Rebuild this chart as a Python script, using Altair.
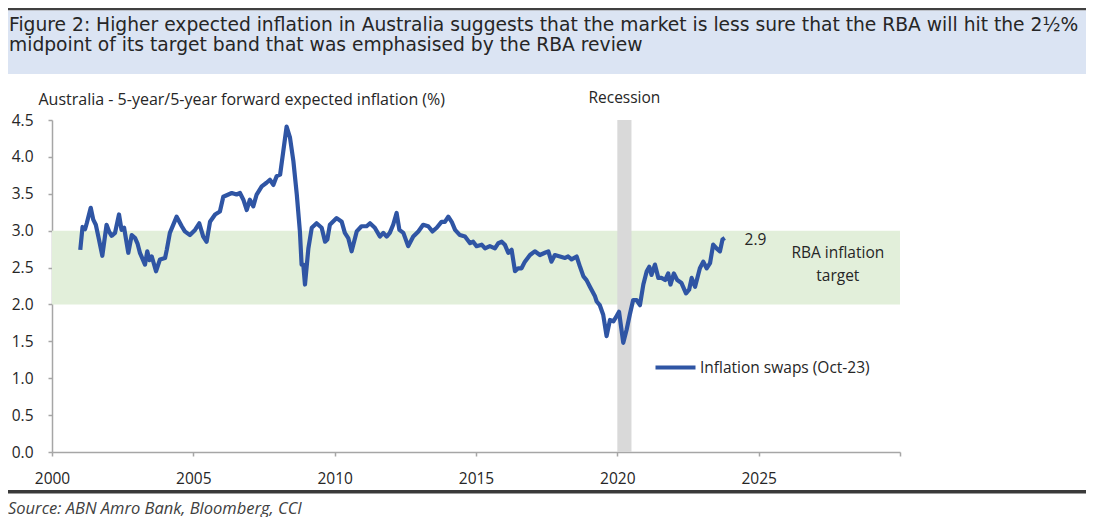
import altair as alt
import pandas as pd

# ---------------- data ----------------
years = [
    2001.00, 2001.08, 2001.17, 2001.23, 2001.37, 2001.46, 2001.55, 2001.64, 2001.78, 2001.93,
    2002.03, 2002.11, 2002.23, 2002.37, 2002.46, 2002.55, 2002.70, 2002.82, 2002.94, 2003.03,
    2003.11, 2003.29, 2003.37, 2003.45, 2003.53, 2003.68, 2003.82, 2004.00, 2004.06, 2004.17,
    2004.41, 2004.59, 2004.70, 2004.88, 2005.06, 2005.21, 2005.35, 2005.47, 2005.59, 2005.77,
    2005.94, 2006.06, 2006.24, 2006.36, 2006.53, 2006.65, 2006.77, 2006.89, 2007.00, 2007.12,
    2007.24, 2007.42, 2007.59, 2007.71, 2007.83, 2007.95, 2008.07, 2008.18, 2008.30, 2008.42,
    2008.54, 2008.66, 2008.77, 2008.83, 2008.89, 2008.95, 2009.07, 2009.19, 2009.36, 2009.54,
    2009.66, 2009.74, 2009.83, 2010.07, 2010.25, 2010.36, 2010.48, 2010.60, 2010.78, 2010.95,
    2011.13, 2011.25, 2011.42, 2011.60, 2011.72, 2011.84, 2011.95, 2012.07, 2012.19, 2012.29,
    2012.43, 2012.60, 2012.78, 2012.96, 2013.13, 2013.31, 2013.46, 2013.61, 2013.78, 2013.90,
    2014.02, 2014.14, 2014.26, 2014.43, 2014.61, 2014.79, 2014.90, 2015.02, 2015.20, 2015.32,
    2015.49, 2015.67, 2015.79, 2015.91, 2016.02, 2016.14, 2016.26, 2016.38, 2016.49, 2016.61,
    2016.73, 2016.91, 2017.08, 2017.26, 2017.44, 2017.56, 2017.67, 2017.79, 2017.97, 2018.15,
    2018.26, 2018.38, 2018.56, 2018.68, 2018.80, 2018.91, 2019.03, 2019.21, 2019.27, 2019.38,
    2019.50, 2019.62, 2019.74, 2019.86, 2019.97, 2020.06, 2020.21, 2020.33, 2020.44, 2020.56,
    2020.68, 2020.80, 2020.92, 2021.04, 2021.13, 2021.21, 2021.33, 2021.45, 2021.57, 2021.69,
    2021.80, 2021.88, 2022.00, 2022.12, 2022.27, 2022.43, 2022.54, 2022.63, 2022.75, 2022.92,
    2023.04, 2023.16, 2023.28, 2023.39, 2023.51, 2023.63, 2023.72, 2023.80,
]
values = [
    2.74, 3.05, 3.02, 3.10, 3.31, 3.15, 3.08, 2.92, 2.66, 3.08,
    2.98, 2.93, 2.97, 3.22, 3.01, 3.04, 2.70, 2.94, 2.90, 2.82,
    2.70, 2.54, 2.72, 2.60, 2.65, 2.45, 2.61, 2.63, 2.74, 2.97,
    3.19, 3.06, 2.99, 2.94, 3.01, 3.10, 2.92, 2.85, 3.12, 3.22,
    3.26, 3.46, 3.49, 3.51, 3.49, 3.51, 3.42, 3.28, 3.42, 3.33,
    3.49, 3.60, 3.65, 3.69, 3.62, 3.74, 3.76, 4.07, 4.41, 4.26,
    3.94, 3.49, 2.99, 2.54, 2.54, 2.27, 2.76, 3.04, 3.10, 3.04,
    2.85, 2.88, 3.08, 3.17, 3.12, 2.97, 2.90, 2.72, 2.99, 3.06,
    3.06, 3.10, 3.04, 2.92, 2.97, 2.92, 2.97, 3.08, 3.24, 3.01,
    2.97, 2.79, 2.92, 2.99, 3.08, 3.06, 2.99, 3.04, 3.12, 3.12,
    3.19, 3.12, 3.01, 2.94, 2.92, 2.83, 2.85, 2.79, 2.81, 2.76,
    2.79, 2.76, 2.83, 2.85, 2.81, 2.70, 2.74, 2.45, 2.49, 2.49,
    2.58, 2.67, 2.72, 2.67, 2.70, 2.72, 2.58, 2.67, 2.65, 2.63,
    2.65, 2.61, 2.65, 2.51, 2.38, 2.33, 2.24, 2.11, 2.04, 1.99,
    1.86, 1.57, 1.79, 1.77, 1.84, 1.90, 1.48, 1.66, 1.86, 2.06,
    2.06, 1.99, 2.27, 2.45, 2.51, 2.40, 2.54, 2.36, 2.36, 2.33,
    2.42, 2.27, 2.42, 2.33, 2.29, 2.15, 2.20, 2.36, 2.24, 2.49,
    2.58, 2.49, 2.56, 2.81, 2.76, 2.72, 2.88, 2.90,
]

target_low = 2.0
target_high = 3.0
recession_start = 2020.0
recession_end = 2020.5
x_min, x_max = 2000, 2030
y_min, y_max = 0.0, 4.5
x_ticks = [2000, 2005, 2010, 2015, 2020, 2025, 2030]
y_ticks = [0.0, 0.5, 1.0, 1.5, 2.0, 2.5, 3.0, 3.5, 4.0, 4.5]
latest_label = "2.9"

title_lines = [
    "Figure 2: Higher expected inflation in Australia suggests that the market is less sure that the RBA will hit the 2½%",
    "midpoint of its target band that was emphasised by the RBA review",
]
y_title = "Australia - 5-year/5-year forward expected inflation (%)"
series_name = "Inflation swaps (Oct-23)"
recession_label = "Recession"
target_label = ["RBA inflation", "target"]
source_text = "Source: ABN Amro Bank, Bloomberg, CCI"

# annotation anchors (data coordinates)
latest_anchor = (2024.5, 2.88)
target_anchor = (2027.8, 2.70)
recession_anchor = (2020.25, 4.80)

FONT = "Open Sans"
TITLE_FONT = "DejaVu Sans"
TEXT = "#262626"
AXIS_GREY = "#a6a6a6"
LINE_BLUE = "#2f55a4"
FS = 15.5

xscale = alt.Scale(domain=[x_min, x_max], nice=False, zero=False)
yscale = alt.Scale(domain=[y_min, y_max], nice=False, zero=True)

X_AX = alt.Axis(
    values=x_ticks, format="d", labelExpr=f"datum.value == {x_max} ? '' : datum.label",
    grid=False, domainColor=AXIS_GREY, tickColor=AXIS_GREY, tickSize=4, domainWidth=1.5, tickWidth=1.5,
    labelFont=FONT, labelFontSize=FS, labelColor=TEXT, labelPadding=15,
    labelFlush=False, labelOverlap=False, title=None)
Y_AX = alt.Axis(
    values=y_ticks, format=".1f", grid=False, domainColor=AXIS_GREY, tickColor=AXIS_GREY,
    tickSize=4, domainWidth=1.5, tickWidth=1.5, labelFont=FONT, labelFontSize=FS, labelColor=TEXT,
    labelPadding=15, labelFlush=False, labelOverlap=False,
    title=y_title, titleAngle=0, titleAlign="left", titleBaseline="middle", titleX=-14, titleY=-21,
    titleFont=FONT, titleFontSize=16, titleFontWeight="normal", titleColor=TEXT, titleLimit=600)


def X(field):
    return alt.X(field, scale=xscale, axis=X_AX)


def Y(field):
    return alt.Y(field, scale=yscale, axis=Y_AX)


df = pd.DataFrame({"year": years, "value": values, "series": series_name})

band = alt.Chart(pd.DataFrame({"x": [x_min], "x2": [x_max], "lo": [target_low], "hi": [target_high]})).mark_rect(
    color="#e2efda"
).encode(x=X("x:Q"), x2="x2:Q", y=Y("lo:Q"), y2="hi:Q")

recession = alt.Chart(pd.DataFrame({"s": [recession_start], "e": [recession_end], "lo": [y_min], "hi": [y_max]})).mark_rect(
    color="#d9d9d9"
).encode(x=X("s:Q"), x2="e:Q", y=Y("lo:Q"), y2="hi:Q")

line = alt.Chart(df).mark_line(strokeWidth=4.2, strokeJoin="round").encode(
    x=X("year:Q"),
    y=Y("value:Q"),
    color=alt.Color("series:N", scale=alt.Scale(range=[LINE_BLUE]), legend=alt.Legend(
        orient="none", legendX=601, legendY=225, title=None, symbolType="stroke", symbolSize=1600,
        symbolStrokeWidth=4.2, labelFont=FONT, labelFontSize=FS, labelColor=TEXT, labelOffset=2,
        labelLimit=400, padding=0)),
)

latest_txt = alt.Chart(pd.DataFrame({"x": [latest_anchor[0]], "y": [latest_anchor[1]], "t": [latest_label]})).mark_text(
    align="left", baseline="middle", font=FONT, fontSize=FS, color=TEXT
).encode(x=X("x:Q"), y=Y("y:Q"), text="t:N")
recession_txt = alt.Chart(pd.DataFrame({"x": [recession_anchor[0]], "y": [recession_anchor[1]], "t": [recession_label]})).mark_text(
    align="center", baseline="middle", font=FONT, fontSize=FS, color=TEXT
).encode(x=X("x:Q"), y=Y("y:Q"), text="t:N")
target_txt = alt.Chart(pd.DataFrame({"x": [target_anchor[0]], "y": [target_anchor[1]]})).mark_text(
    align="center", baseline="middle", font=FONT, fontSize=FS, color=TEXT, lineHeight=23, text=target_label
).encode(x=X("x:Q"), y=Y("y:Q"))

# page decorations (title box, rules, source)
one = alt.Data(values=[{"k": 1}])
top_rule = alt.Chart(one).mark_rect(color="#404040").encode(
    x=alt.value(-44), x2=alt.value(1036), y=alt.value(-112), y2=alt.value(-109.5))
title_box = alt.Chart(one).mark_rect(color="#dbe4f3").encode(
    x=alt.value(-44), x2=alt.value(1036), y=alt.value(-109.5), y2=alt.value(-46))
bottom_rule = alt.Chart(one).mark_rect(color="#3a3a3a").encode(
    x=alt.value(-44), x2=alt.value(1036), y=alt.value(370), y2=alt.value(373.5))
title_txt = alt.Chart(one).mark_text(
    align="left", baseline="alphabetic", font=TITLE_FONT, fontSize=18.7, lineHeight=20, color=TEXT, text=title_lines
).encode(x=alt.value(-43), y=alt.value(-89.5))
source_txt = alt.Chart(one).mark_text(
    align="left", baseline="middle", font=FONT, fontSize=16.5, fontStyle="italic", color="#404040", text=source_text
).encode(x=alt.value(-44), y=alt.value(389))

chart = alt.layer(
    top_rule, title_box, bottom_rule, title_txt, source_txt,
    band, recession, line, latest_txt, recession_txt, target_txt,
).properties(
    width=848, height=332,
    autosize=alt.AutoSizeParams(type="none"),
    padding={"left": 44, "top": 112, "right": 186, "bottom": 66},
    background="white",
).configure_view(stroke=None)

chart.save("out.html", embed_options={"renderer": "svg", "actions": False})
